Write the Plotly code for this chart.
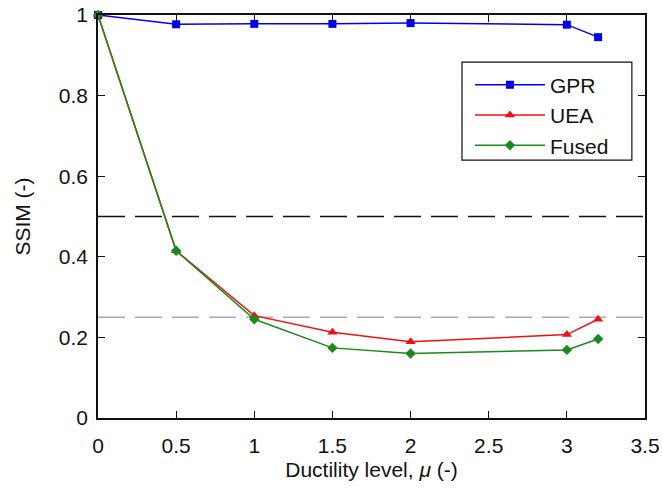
import plotly.graph_objects as go

mu = [0, 0.5, 1, 1.5, 2, 3, 3.2]
gpr = [1.0, 0.977, 0.978, 0.978, 0.980, 0.976, 0.945]
uea = [1.0, 0.415, 0.254, 0.213, 0.189, 0.207, 0.245]
fused = [1.0, 0.415, 0.245, 0.174, 0.160, 0.169, 0.196]
thresholds = [0.5, 0.25]
threshold_colors = ["#111111", "#aaaaaa"]
x_ticks = [0, 0.5, 1, 1.5, 2, 2.5, 3, 3.5]
x_labels = ["0", "0.5", "1", "1.5", "2", "2.5", "3", "3.5"]
y_ticks = [0, 0.2, 0.4, 0.6, 0.8, 1]
y_labels = ["0", "0.2", "0.4", "0.6", "0.8", "1"]

fig = go.Figure()
for t, c in zip(thresholds, threshold_colors):
    fig.add_trace(go.Scatter(x=[0, 3.5], y=[t, t], mode="lines",
                             line=dict(color=c, width=1.6, dash="27px,10px"),
                             showlegend=False, hoverinfo="skip"))

fig.add_trace(go.Scatter(x=mu, y=gpr, name="GPR", mode="lines+markers",
                         line=dict(color="#0000ee", width=1.5),
                         marker=dict(symbol="square", size=8, color="#0000ee"),
                         cliponaxis=False))
fig.add_trace(go.Scatter(x=mu, y=uea, name="UEA", mode="lines+markers",
                         line=dict(color="#ee1111", width=1.5),
                         marker=dict(symbol="triangle-up", size=9, color="#ee1111"),
                         cliponaxis=False))
fig.add_trace(go.Scatter(x=mu, y=fused, name="Fused", mode="lines+markers",
                         line=dict(color="#1a8a1a", width=1.5),
                         marker=dict(symbol="diamond", size=8, color="#1a8a1a"),
                         cliponaxis=False))

# legend frame
fig.add_shape(type="rect", xref="paper", yref="paper",
              x0=0.6654, x1=0.976, y0=0.640, y1=0.883,
              line=dict(color="#111111", width=1.2), fillcolor="white", layer="below")

font = dict(family="Liberation Sans, Arial, sans-serif", size=21, color="#111111")
fig.update_layout(
    width=663, height=488,
    margin=dict(l=98, r=18, t=15, b=70, autoexpand=False),
    paper_bgcolor="white", plot_bgcolor="white",
    font=font,
    legend=dict(x=0.68, y=0.877, xanchor="left", yanchor="top",
                borderwidth=0, bgcolor="rgba(0,0,0,0)",
                font=dict(family="Liberation Sans, Arial, sans-serif", size=21, color="#111111"),
                itemwidth=70, tracegroupgap=0),
)
fig.update_xaxes(range=[0, 3.5], tickvals=x_ticks, ticktext=x_labels,
                 ticks="inside", ticklen=7, tickcolor="#111111", tickwidth=1.2,
                 ticklabelstandoff=8,
                 showline=True, linecolor="#111111", linewidth=1.5, mirror="ticks",
                 showgrid=False, zeroline=False, automargin=False,
                 title=dict(text="Ductility level, <i>μ</i> (-)", standoff=6,
                            font=dict(size=21)))
fig.update_yaxes(range=[0, 1], tickvals=y_ticks, ticktext=y_labels,
                 ticks="inside", ticklen=7, tickcolor="#111111", tickwidth=1.2,
                 ticklabelstandoff=4,
                 showline=True, linecolor="#111111", linewidth=1.5, mirror="ticks",
                 showgrid=False, zeroline=False, automargin=False,
                 title=dict(text="SSIM (-)", standoff=22, font=dict(size=21)))

fig.write_html("out.html")
